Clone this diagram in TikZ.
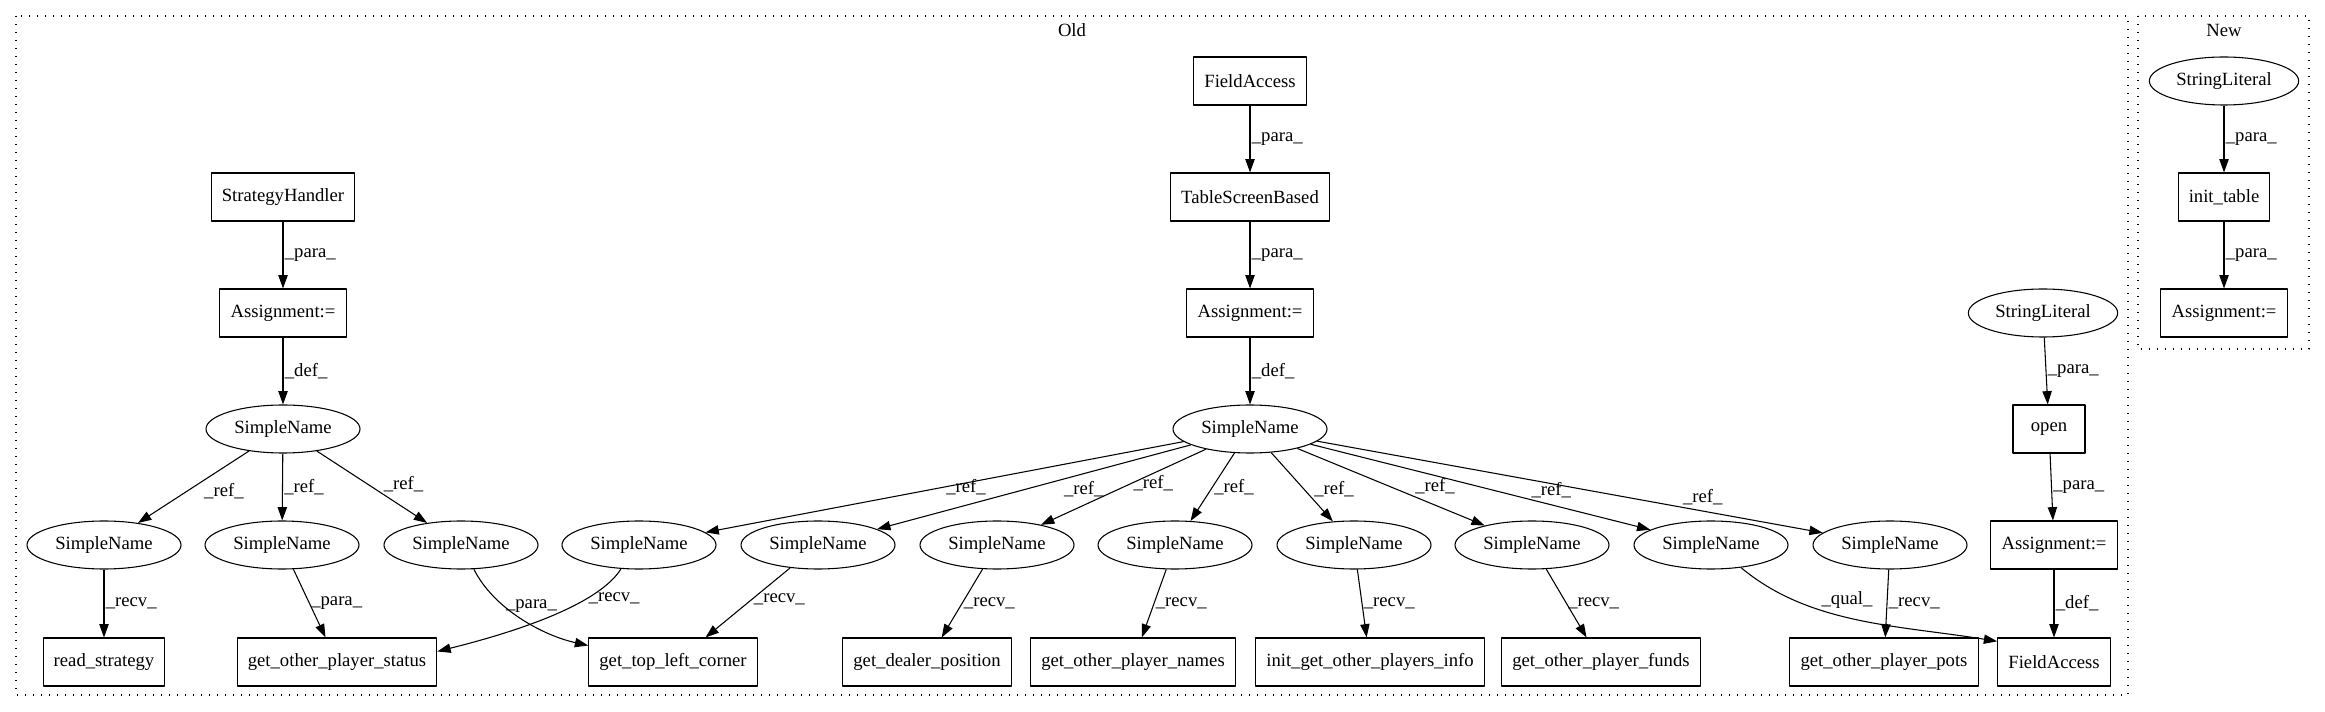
\documentclass[tikz,border=0pt]{standalone}
\usepackage{fontspec}
\setmainfont{Liberation Serif}
\usetikzlibrary{shapes.geometric,arrows.meta}
\begin{document}
\begin{tikzpicture}[line join=round,x=0.75pt,y=-0.75pt,
    >={Triangle[length=10pt,width=7pt]},
    every node/.style={font=\fontsize{14pt}{16pt}\selectfont},
    box/.style={draw,line width=0.8pt,minimum height=36pt,minimum width=54pt,inner xsep=8pt,inner ysep=0pt},
    oval/.style={draw,line width=0.8pt,ellipse,inner sep=0pt,minimum height=36pt,minimum width=115.5pt},
    flow/.style={->,line width=0.8pt},
    lbl/.style={anchor=west,inner sep=1pt},
    cluster/.style={line width=0.8pt,dash pattern=on 1pt off 5pt}]
      \useasboundingbox (0,0) rectangle (2325,712);
      \draw[cluster] (16,16) rectangle (2128,695);
      \draw[cluster] (2138,16) rectangle (2309,349);
      \node (old) at (1072,30) {Old};
      \node (new) at (2224,30) {New};
      \node[box] (strat) at (283,197) {StrategyHandler};
      \node[box] (asgl) at (283,313) {Assignment:=};
      \node[oval] (snl) at (283,429) {SimpleName};
      \node[box] (fat) at (1250,81) {FieldAccess};
      \node[box] (tsb) at (1250,197) {TableScreenBased};
      \node[box] (asgc) at (1250,313) {Assignment:=};
      \node[oval] (snc) at (1250,429) {SimpleName};
      \foreach \i/\x in {1/104,2/282,3/461,4/639,5/818,6/997,7/1175,8/1354,9/1532,10/1711,11/1890}
      \node[oval] (s\i) at (\x,545) {SimpleName};
      \node[box] (rs) at (104,662) {read\_strategy};
      \node[box] (gops) at (337,662) {get\_other\_player\_status};
      \node[box] (gtlc) at (673,662) {get\_top\_left\_corner};
      \node[box] (gdp) at (927,662) {get\_dealer\_position};
      \node[box] (gopn) at (1133,662) {get\_other\_player\_names};
      \node[box] (igopi) at (1370,662) {init\_get\_other\_players\_info};
      \node[box] (gopf) at (1601,662) {get\_other\_player\_funds};
      \node[box] (gopp) at (1884,662) {get\_other\_player\_pots};
      \node[box] (fab) at (2054,662) {FieldAccess};
      \node[oval,minimum width=112pt] (strr) at (2043,313) {StringLiteral};
      \node[box] (open) at (2049,429) {open};
      \node[box] (asgr) at (2054,545) {Assignment:=};
      \node[oval,minimum width=112pt] (strn) at (2224,81) {StringLiteral};
      \node[box] (init) at (2224,197) {init\_table};
      \node[box] (asgn) at (2224,313) {Assignment:=};
      \draw[flow] (strat) -- (asgl) node[lbl,pos=0.5] {\_para\_};
      \draw[flow] (asgl) -- (snl) node[lbl,pos=0.5] {\_def\_};
      \draw[flow] (snl) -- (s1) node[lbl,pos=0.42,anchor=north west] {\_ref\_};
      \draw[flow] (snl) -- (s2) node[lbl,pos=0.5] {\_ref\_};
      \draw[flow] (snl) -- (s3) node[lbl,pos=0.59,anchor=south west] {\_ref\_};
      \draw[flow] (fat) -- (tsb) node[lbl,pos=0.5] {\_para\_};
      \draw[flow] (tsb) -- (asgc) node[lbl,pos=0.5] {\_para\_};
      \draw[flow] (asgc) -- (snc) node[lbl,pos=0.5] {\_def\_};
      \foreach \i/\p/\a in {4/0.5/west,5/0.41/north west,6/0.45/west,7/0.5/west,8/0.67/south west,9/0.62/south west,10/0.645/south west,11/0.72/south west}
      \draw[flow] (snc) -- (s\i) node[lbl,pos=\p,anchor=\a] {\_ref\_};
      \draw[flow] (s1) -- (rs) node[lbl,pos=0.5] {\_recv\_};
      \draw[flow] (s2) -- (gops) node[lbl,pos=0.5] {\_para\_};
      \draw[flow] (s3.-62) .. controls +(20,40) and +(-45,-10) .. (gtlc.169) node[lbl,pos=0.35] {\_para\_};
      \draw[flow] (s4.-127) .. controls +(-25,40) and +(60,-15) .. (gops.6) node[lbl,pos=0.27] {\_recv\_};
      \draw[flow] (s5) -- (gtlc.37) node[lbl,pos=0.45] {\_recv\_};
      \draw[flow] (s6) -- (gdp) node[lbl,pos=0.5] {\_recv\_};
      \draw[flow] (s7) -- (gopn) node[lbl,pos=0.5] {\_recv\_};
      \draw[flow] (s8) -- (igopi) node[lbl,pos=0.5] {\_recv\_};
      \draw[flow] (s9) -- (gopf) node[lbl,pos=0.5] {\_recv\_};
      \draw[flow] (s10.-37) .. controls +(68,57) and +(-99,-16) .. (fab.160) node[lbl,pos=0.35,anchor=south west] {\_qual\_};
      \draw[flow] (s11) -- (gopp) node[lbl,pos=0.5] {\_recv\_};
      \draw[flow] (strr) -- (open) node[lbl,pos=0.5] {\_para\_};
      \draw[flow] (open) -- (asgr) node[lbl,pos=0.5] {\_para\_};
      \draw[flow] (asgr) -- (fab) node[lbl,pos=0.5] {\_def\_};
      \draw[flow] (strn) -- (init) node[lbl,pos=0.5] {\_para\_};
      \draw[flow] (init) -- (asgn) node[lbl,pos=0.5] {\_para\_};
    \end{tikzpicture}
\end{document}
